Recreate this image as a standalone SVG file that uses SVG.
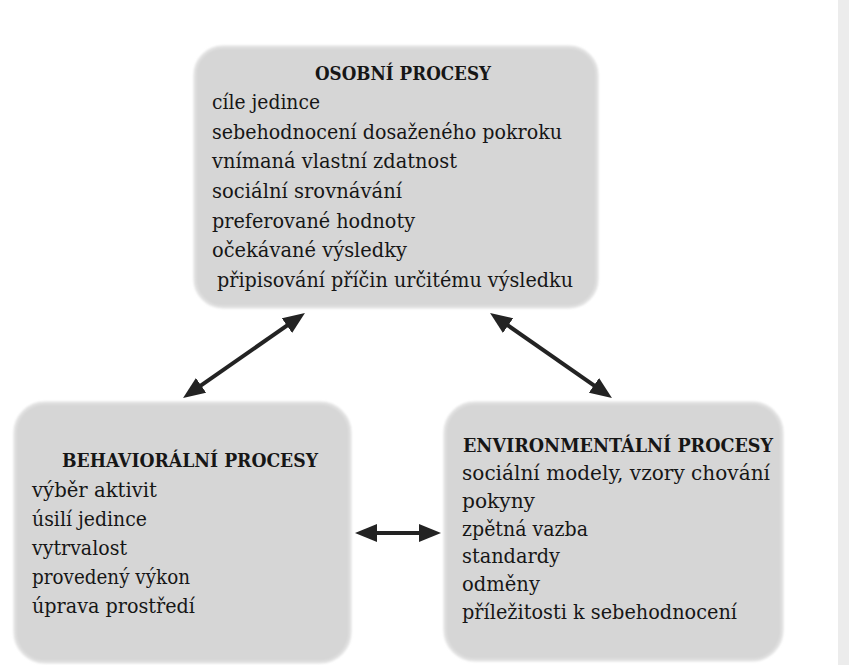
<svg xmlns="http://www.w3.org/2000/svg" width="849" height="665" viewBox="0 0 849 665">
  <style>
    .box { fill: #d6d6d6; stroke: #e0e0e0; stroke-width: 3; }
    .t { font-family: "DejaVu Serif", "Liberation Serif", serif; font-size: 20px; fill: #161616; }
    .h { font-family: "DejaVu Serif", "Liberation Serif", serif; font-size: 19px; font-weight: bold; fill: #161616; }
    .conn { stroke: #232323; stroke-width: 4; fill: none; marker-start: url(#ah); marker-end: url(#ah); }
  </style>
  <defs>
    <filter id="soft" x="-5%" y="-5%" width="110%" height="110%">
      <feGaussianBlur stdDeviation="1.2"/>
    </filter>
    <marker id="ah" viewBox="0 0 22 18" refX="14" refY="9" markerWidth="22" markerHeight="18" markerUnits="userSpaceOnUse" orient="auto-start-reverse">
      <path d="M0,0 L22,9 L0,18 Z" fill="#232323"/>
    </marker>
  </defs>
  <rect x="0" y="0" width="849" height="665" fill="#ffffff"/>
  <rect x="838" y="0" width="11" height="665" fill="#ececec"/>

  <g id="osobni">
    <rect class="box" x="195" y="47" width="402" height="260" rx="28" filter="url(#soft)"/>
    <text class="h" x="315" y="80" textLength="176" lengthAdjust="spacingAndGlyphs">OSOBNÍ PROCESY</text>
    <text class="t" x="212" y="109" textLength="108" lengthAdjust="spacingAndGlyphs">cíle jedince</text>
    <text class="t" x="212" y="139" textLength="350" lengthAdjust="spacingAndGlyphs">sebehodnocení dosaženého pokroku</text>
    <text class="t" x="212" y="168" textLength="245" lengthAdjust="spacingAndGlyphs">vnímaná vlastní zdatnost</text>
    <text class="t" x="212" y="198" textLength="190" lengthAdjust="spacingAndGlyphs">sociální srovnávání</text>
    <text class="t" x="212" y="228" textLength="203" lengthAdjust="spacingAndGlyphs">preferované hodnoty</text>
    <text class="t" x="212" y="257" textLength="195" lengthAdjust="spacingAndGlyphs">očekávané výsledky</text>
    <text class="t" x="217" y="287" textLength="356" lengthAdjust="spacingAndGlyphs">připisování příčin určitému výsledku</text>
  </g>

  <g id="behavioralni">
    <rect class="box" x="15" y="403" width="335" height="259" rx="30" filter="url(#soft)"/>
    <text class="h" x="62" y="467" textLength="256" lengthAdjust="spacingAndGlyphs">BEHAVIORÁLNÍ PROCESY</text>
    <text class="t" x="32" y="497" textLength="125" lengthAdjust="spacingAndGlyphs">výběr aktivit</text>
    <text class="t" x="32" y="526" textLength="115" lengthAdjust="spacingAndGlyphs">úsilí jedince</text>
    <text class="t" x="32" y="555" textLength="95" lengthAdjust="spacingAndGlyphs">vytrvalost</text>
    <text class="t" x="32" y="584" textLength="158" lengthAdjust="spacingAndGlyphs">provedený výkon</text>
    <text class="t" x="32" y="613" textLength="163" lengthAdjust="spacingAndGlyphs">úprava prostředí</text>
  </g>

  <g id="environmentalni">
    <rect class="box" x="445" y="403" width="337" height="257" rx="30" filter="url(#soft)"/>
    <text class="h" x="463" y="452" textLength="310" lengthAdjust="spacingAndGlyphs">ENVIRONMENTÁLNÍ PROCESY</text>
    <text class="t" x="462" y="480" textLength="308" lengthAdjust="spacingAndGlyphs">sociální modely, vzory chování</text>
    <text class="t" x="462" y="508" textLength="73" lengthAdjust="spacingAndGlyphs">pokyny</text>
    <text class="t" x="462" y="536" textLength="126" lengthAdjust="spacingAndGlyphs">zpětná vazba</text>
    <text class="t" x="462" y="563" textLength="98" lengthAdjust="spacingAndGlyphs">standardy</text>
    <text class="t" x="462" y="591" textLength="78" lengthAdjust="spacingAndGlyphs">odměny</text>
    <text class="t" x="462" y="619" textLength="275" lengthAdjust="spacingAndGlyphs">příležitosti k sebehodnocení</text>
  </g>

  <g id="connectors">
    <line class="conn" x1="298.4" y1="317.6" x2="189.6" y2="393.4"/>
    <line class="conn" x1="496.6" y1="317.6" x2="605.4" y2="393.4"/>
    <line class="conn" x1="363" y1="533" x2="433" y2="533"/>
  </g>
</svg>
